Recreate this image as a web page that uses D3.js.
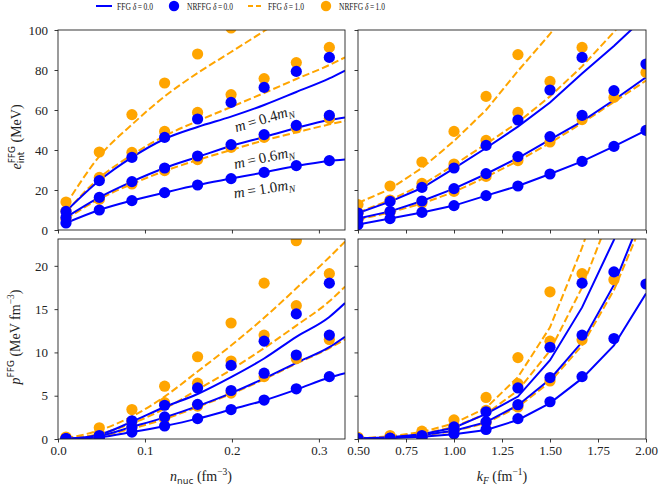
<!DOCTYPE html>
<html>
<head>
<meta charset="utf-8">
<script src="https://cdn.jsdelivr.net/npm/d3@7"></script>
<style>
  body { margin: 0; background: #fff; }
  svg { display: block; }
</style>
</head>
<body>
<svg id="chart" width="659" height="486"></svg>
<script>
'use strict';

// ---- data ----
// density grid (left panels) and Fermi momentum grid (right panels)
var nGrid = [0.0092, 0.0475, 0.085, 0.1226, 0.1605, 0.199, 0.237, 0.274, 0.312];
var nLineGrid = [0.0092, 0.0475, 0.085, 0.1226, 0.1605, 0.199, 0.237, 0.274, 0.312, 0.33];
var kGrid = [0.5, 0.667, 0.833, 1.0, 1.167, 1.333, 1.5, 1.667, 1.833, 2.0];

var massLabels = ['0.4', '0.6', '1.0'];

var nTicks = [0, 0.1, 0.2, 0.3];
var kTicks = [0.5, 0.75, 1.0, 1.25, 1.5, 1.75, 2.0];
var eTicks = [0, 20, 40, 60, 80, 100];
var pTicks = [0, 5, 10, 15, 20];

// e_int vs n  (order of each group: m = 0.4, 0.6, 1.0)
var eLineN_d0 = [
  [9.3, 24.7, 36.3, 45.5, 51.5, 56.7, 62.5, 69, 75.8, 79.7],
  [6.3, 16.3, 24.2, 31, 36.5, 42, 46.5, 51, 55, 56.3],
  [3.5, 10, 14.7, 18.7, 22.5, 25.7, 28.8, 32, 34.5, 35.2]
];
var eLineN_d1 = [
  [12.7, 36.8, 52.7, 66.8, 78.5, 89, 99.5, 110, 120, 125],
  [9, 26, 37.5, 47, 54.5, 61.5, 68.5, 75.5, 82.5, 86.3],
  [5.5, 15.5, 23, 29.5, 35, 40, 44.8, 48.8, 52.8, 54.5]
];
var eDotN_d0 = [
  [9.3, 24.7, 36.3, 46.3, 55.5, 63.8, 71.3, 79.3, 86.3],
  [6.3, 16.3, 24.2, 31, 37, 42.7, 47.7, 52.3, 57.3],
  [3.5, 10, 14.7, 18.7, 22.5, 25.7, 28.8, 32.2, 34.7]
];
var eDotN_d1 = [
  [14, 39, 57.7, 73.5, 88, 101, null, null, null],
  [9.5, 26.3, 38.8, 49.3, 58.8, 67.7, 75.7, 83.7, 91.3],
  [5.5, 15.3, 23, 29.7, 35.2, 41.3, 46.3, 51, 55.7]
];

// e_int vs kF
var eLineK_d0 = [
  [8.5, 14.2, 21, 30.8, 41, 51.7, 63.7, 78.3, 92, 107],
  [5.7, 9.3, 14.5, 20.7, 28, 36, 45.2, 54.3, 65, 76.3],
  [2.7, 5.7, 8.8, 12.2, 17.2, 22, 28, 34.3, 41.8, 49.8]
];
var eLineK_d1 = [
  [13.5, 20.5, 31, 44.5, 60, 79.5, 98, 120, 145, 170],
  [8.7, 15, 22.5, 32.5, 43, 53.8, 66.8, 81.8, 99, 118],
  [5.2, 8.8, 13.2, 19, 26.5, 34.5, 43.5, 53.5, 64, 74.7]
];
var eDotK_d0 = [
  [8.5, 14.3, 21.3, 31, 42.3, 55, 70, 86.3, null, null],
  [5.7, 9.3, 14.5, 20.7, 28.2, 36.7, 46.7, 57.3, 69.7, 83],
  [2.7, 5.7, 8.8, 12.2, 17.2, 22, 28, 34.3, 41.8, 49.8]
];
var eDotK_d1 = [
  [12.7, 22, 34, 49.3, 66.8, 87.7, null, null, null, null],
  [8.5, 15, 23.3, 33, 44.8, 58.8, 74.3, 91.3, null, null],
  [5.2, 9, 13.5, 19.3, 26.8, 34.7, 44, 55.2, 66.3, 78.8]
];

// p vs n
var pLineN_d0 = [
  [0.02, 0.5, 2.0, 3.7, 5.2, 7.15, 9.3, 11.8, 14.1, 15.7],
  [0.01, 0.35, 1.4, 2.5, 3.8, 5.3, 7.0, 8.8, 10.6, 11.8],
  [0.01, 0.2, 0.8, 1.5, 2.35, 3.4, 4.45, 5.7, 7.1, 7.6]
];
var pLineN_d1 = [
  [0.1, 1.0, 2.6, 4.9, 7.8, 10.8, 14.0, 17.4, 21.0, 22.8],
  [0.05, 0.6, 1.8, 3.5, 5.7, 8.0, 10.5, 13.1, 15.9, 17.6],
  [0.02, 0.3, 1.2, 2.3, 3.7, 5.2, 6.9, 8.7, 10.5, 11.5]
];
var pDotN_d0 = [
  [0.05, 0.4, 2.1, 3.9, 5.9, 8.5, 11.3, 14.45, 18.0],
  [0.03, 0.25, 1.4, 2.55, 4.0, 5.6, 7.6, 9.7, 12.0],
  [0.02, 0.15, 0.8, 1.5, 2.35, 3.4, 4.5, 5.8, 7.2]
];
var pDotN_d1 = [
  [0.23, 1.3, 3.4, 6.1, 9.5, 13.4, 18.0, 22.9, null],
  [0.1, 0.6, 2.0, 4.2, 6.45, 9.0, 12.0, 15.4, 19.1],
  [0.05, 0.3, 1.3, 2.4, 3.8, 5.3, 7.2, 9.3, 11.5]
];

// p vs kF
var pLineK_d0 = [
  [0.05, 0.2, 0.55, 1.3, 2.9, 4.9, 9.1, 15.2, 23.0, 35],
  [0.05, 0.15, 0.45, 0.95, 1.95, 3.9, 6.9, 11.2, 17.8, 27],
  [0.03, 0.1, 0.25, 0.55, 1.05, 2.2, 4.15, 7.0, 10.8, 16.8]
];
var pLineK_d1 = [
  [0.08, 0.3, 0.8, 1.8, 3.6, 7.15, 12.9, 22.1, 33, 48],
  [0.05, 0.2, 0.6, 1.4, 2.9, 5.6, 10.2, 17.5, 27, 40],
  [0.04, 0.12, 0.4, 0.9, 1.85, 3.7, 6.6, 10.8, 17.2, 26]
];
var pDotK_d0 = [
  [0.03, 0.1, 0.4, 1.4, 3.15, 5.9, 10.6, 18.0, null, null],
  [0.02, 0.07, 0.25, 1.0, 2.0, 3.96, 7.1, 12.0, 19.3, null],
  [0.01, 0.04, 0.15, 0.6, 1.1, 2.35, 4.3, 7.2, 11.6, 17.9]
];
var pDotK_d1 = [
  [0.2, 0.4, 0.9, 2.2, 4.8, 9.4, 17.0, null, null, null],
  [0.1, 0.2, 0.6, 1.5, 3.3, 6.4, 11.3, 19.1, null, null],
  [0.05, 0.12, 0.35, 0.95, 1.9, 3.7, 6.7, 11.45, 18.4, null]
];

// ---- styling ----
var BLUE = '#0000ff';
var ORANGE = '#ffa500';
var SERIF = '"Liberation Serif", "Times New Roman", serif';
var SANS = '"DejaVu Sans", sans-serif';
var INK = '#222';

var svg = d3.select('#chart');

var panels = [
  { id: 'tl', left: 58, top: 30, width: 287, height: 200, xDom: [0, 0.33], yDom: [0, 100],
    xTicks: nTicks, yTicks: eTicks, xFmt: d3.format('.1f'), labelX: false, labelY: true,
    xs: nGrid, xsLine: nLineGrid, curve: d3.curveMonotoneX,
    lD0: eLineN_d0, lD1: eLineN_d1, pD0: eDotN_d0, pD1: eDotN_d1 },
  { id: 'tr', left: 358, top: 30, width: 288, height: 200, xDom: [0.5, 2.0], yDom: [0, 100],
    xTicks: kTicks, yTicks: eTicks, xFmt: d3.format('.2f'), labelX: false, labelY: false,
    xs: kGrid, xsLine: kGrid, curve: d3.curveLinear,
    lD0: eLineK_d0, lD1: eLineK_d1, pD0: eDotK_d0, pD1: eDotK_d1 },
  { id: 'bl', left: 58, top: 239, width: 287, height: 200, xDom: [0, 0.33], yDom: [0, 23.1],
    xTicks: nTicks, yTicks: pTicks, xFmt: d3.format('.1f'), labelX: true, labelY: true,
    xs: nGrid, xsLine: nLineGrid, curve: d3.curveMonotoneX,
    lD0: pLineN_d0, lD1: pLineN_d1, pD0: pDotN_d0, pD1: pDotN_d1 },
  { id: 'br', left: 358, top: 239, width: 288, height: 200, xDom: [0.5, 2.0], yDom: [0, 23.1],
    xTicks: kTicks, yTicks: pTicks, xFmt: d3.format('.2f'), labelX: true, labelY: false,
    xs: kGrid, xsLine: kGrid, curve: d3.curveLinear,
    lD0: pLineK_d0, lD1: pLineK_d1, pD0: pDotK_d0, pD1: pDotK_d1 }
];

panels.forEach(function(p) {
  var x = d3.scaleLinear().domain(p.xDom).range([0, p.width]);
  var y = d3.scaleLinear().domain(p.yDom).range([p.height, 0]);

  var g = svg.append('g').attr('transform', 'translate(' + p.left + ',' + p.top + ')');

  svg.append('clipPath').attr('id', 'clip-' + p.id)
    .append('rect').attr('width', p.width).attr('height', p.height);

  var plot = g.append('g').attr('clip-path', 'url(#clip-' + p.id + ')');

  function lineGen(xs) {
    return d3.line()
      .defined(function(d) { return d != null; })
      .x(function(d, i) { return x(xs[i]); })
      .y(function(d) { return y(d); })
      .curve(p.curve);
  }

  // delta = 1 (orange dashed) then delta = 0 (blue solid)
  p.lD1.forEach(function(vals) {
    plot.append('path').attr('d', lineGen(p.xsLine)(vals))
      .attr('fill', 'none').attr('stroke', ORANGE).attr('stroke-width', 2)
      .attr('stroke-dasharray', '7.4,3.2');
  });
  p.lD0.forEach(function(vals) {
    plot.append('path').attr('d', lineGen(p.xsLine)(vals))
      .attr('fill', 'none').attr('stroke', BLUE).attr('stroke-width', 2);
  });

  function dots(sets, color) {
    sets.forEach(function(vals) {
      var pts = vals.map(function(v, i) { return { x: p.xs[i], v: v }; })
        .filter(function(d) { return d.v != null; });
      plot.selectAll(null).data(pts).enter().append('circle')
        .attr('cx', function(d) { return x(d.x); })
        .attr('cy', function(d) { return y(d.v); })
        .attr('r', 5.6)
        .attr('fill', color);
    });
  }
  dots(p.pD1, ORANGE);
  dots(p.pD0, BLUE);

  // axes
  var ax = g.append('g').attr('transform', 'translate(0,' + p.height + ')')
    .call(d3.axisBottom(x).tickValues(p.xTicks).tickSize(3.5).tickPadding(3.5)
      .tickFormat(p.labelX ? p.xFmt : ''));
  var ay = g.append('g')
    .call(d3.axisLeft(y).tickValues(p.yTicks).tickSize(3.5).tickPadding(6.5)
      .tickFormat(p.labelY ? d3.format('d') : ''));
  [ax, ay].forEach(function(a) {
    a.select('.domain').remove();
    a.selectAll('line').attr('stroke', INK).attr('stroke-width', 0.9);
    a.selectAll('text').attr('fill', INK).style('font-family', SERIF).style('font-size', '13px');
  });

  g.append('rect').attr('width', p.width).attr('height', p.height)
    .attr('fill', 'none').attr('stroke', INK).attr('stroke-width', 0.9);
});

// rich text helper: parts with optional shift (baseline offset), sans, italic, size, stack
function richText(parent, parts, baseSize) {
  var text = parent.append('text').attr('fill', INK).attr('text-anchor', 'middle');
  var cur = 0, prevLen = 0, supLen = 0;
  parts.forEach(function(pt) {
    var ts = text.append('tspan').text(pt.t)
      .style('font-family', pt.sans ? SANS : SERIF)
      .style('font-size', (pt.size || baseSize) + 'px')
      .style('font-style', pt.it ? 'italic' : 'normal');
    var shift = pt.shift || 0;
    if (shift !== cur) ts.attr('dy', shift - cur);
    cur = shift;
    var dx = 0;
    if (pt.stack) dx = -prevLen;
    if (pt.after) dx = Math.max(0, supLen - prevLen);
    if (dx) ts.attr('dx', dx);
    var len = ts.node().getComputedTextLength();
    if (pt.stack) supLen = prevLen;
    prevLen = len;
  });
  return text;
}

// axis labels
richText(svg.append('g').attr('transform', 'translate(21,137) rotate(-90)'), [
  { t: 'e', it: true },
  { t: 'FFG', sans: true, size: 9, shift: -6 },
  { t: 'int', sans: true, size: 9, shift: 3, stack: true },
  { t: ' (MeV)', after: true }
], 14);

richText(svg.append('g').attr('transform', 'translate(20,337) rotate(-90)'), [
  { t: 'p', it: true },
  { t: 'FFG', sans: true, size: 9, shift: -6 },
  { t: ' (MeV fm' },
  { t: '\u22123', size: 9.5, shift: -6 },
  { t: ')' }
], 14);

richText(svg.append('g').attr('transform', 'translate(201,481)'), [
  { t: 'n', it: true },
  { t: 'nuc', sans: true, size: 9, shift: 3 },
  { t: ' (fm' },
  { t: '\u22123', size: 9.5, shift: -6 },
  { t: ')' }
], 14);

richText(svg.append('g').attr('transform', 'translate(502,481)'), [
  { t: 'k', it: true },
  { t: 'F', it: true, size: 9.5, shift: 3 },
  { t: ' (fm' },
  { t: '\u22121', size: 9.5, shift: -6 },
  { t: ')' }
], 14);

// mass annotations in the top-left panel
var massPos = [[264, 118, -17], [264, 157, -12], [264, 188, -9]];
massLabels.forEach(function(m, i) {
  var pos = massPos[i];
  richText(svg.append('g').attr('transform', 'translate(' + pos[0] + ',' + pos[1] + ') rotate(' + pos[2] + ')'), [
    { t: 'm', it: true },
    { t: '\u2009=\u2009' + m },
    { t: 'm', it: true },
    { t: 'N', it: true, size: 10, shift: 3 }
  ], 15).attr('dy', '0.35em');
});

// legend along the top
var legend = svg.append('g').attr('transform', 'translate(0,6)');
var legendItems = [
  { kind: 'line', color: BLUE, x: 96, label: 'FFG ', d: '0.0', tx: 117, w: 36 },
  { kind: 'dot', color: BLUE, x: 174, label: 'NRFFG ', d: '0.0', tx: 187, w: 46 },
  { kind: 'dash', color: ORANGE, x: 248, label: 'FFG ', d: '1.0', tx: 268, w: 36 },
  { kind: 'dot', color: ORANGE, x: 326, label: 'NRFFG ', d: '1.0', tx: 339, w: 46 }
];
legendItems.forEach(function(it) {
  if (it.kind === 'dot') {
    legend.append('circle').attr('cx', it.x).attr('cy', 0).attr('r', 5.2).attr('fill', it.color);
  } else {
    legend.append('line').attr('x1', it.x).attr('x2', it.x + 16).attr('y1', 0).attr('y2', 0)
      .attr('stroke', it.color).attr('stroke-width', 2)
      .attr('stroke-dasharray', it.kind === 'dash' ? '5,3' : null);
  }
  // squeeze the label horizontally to the width seen in the figure
  var holder = legend.append('g');
  var t = holder.append('text').attr('fill', INK)
    .style('font-family', SERIF).style('font-size', '10px');
  t.append('tspan').text(it.label);
  t.append('tspan').text('\u03b4').style('font-style', 'italic');
  t.append('tspan').text('\u2009=\u2009' + it.d);
  var natural = t.node().getComputedTextLength();
  holder.attr('transform', 'translate(' + it.tx + ',3.5) scale(' + (it.w / natural) + ',1)');
});
</script>
</body>
</html>
